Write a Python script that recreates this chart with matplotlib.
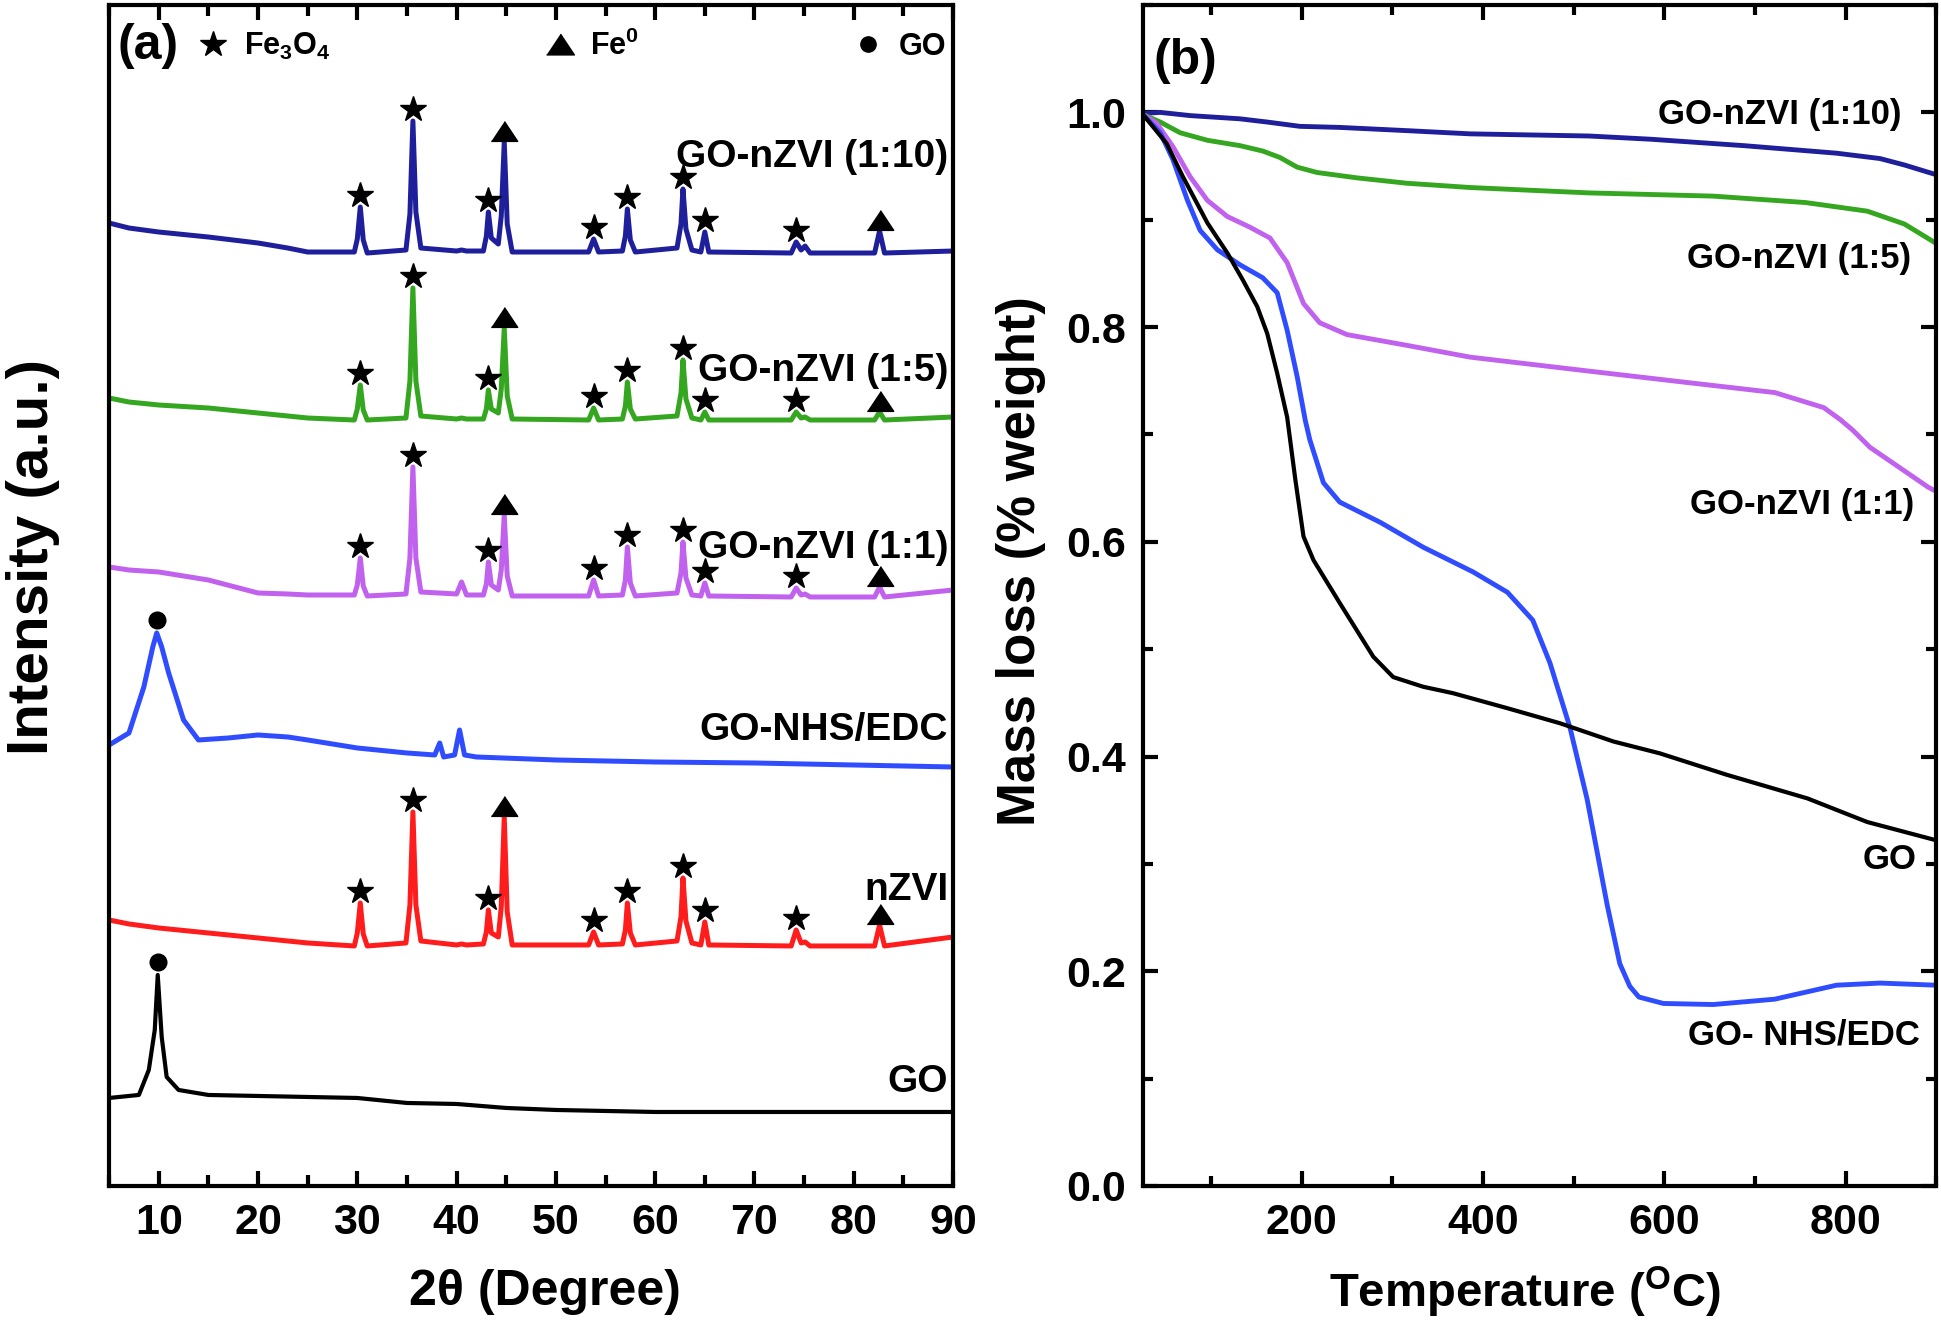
import numpy as np
import matplotlib
matplotlib.use("Agg")
import matplotlib.pyplot as plt
from matplotlib.ticker import MultipleLocator, FormatStrFormatter
from matplotlib.lines import Line2D

# ---- panel (a): XRD patterns, intensity measured from each trace's own baseline ----
tt_fe = [5, 7, 10, 15, 20, 23, 25, 29.7, 30.0, 30.3, 30.6, 31.0, 34.9, 35.3, 35.6, 35.9, 36.4,
         40.0, 40.5, 41.0, 42.7, 43.0, 43.2, 43.5, 44.2, 44.5, 44.8, 45.1, 45.6, 53.3, 53.8, 54.3,
         56.7, 57.0, 57.2, 57.5, 58.0, 62.2, 62.6, 62.8, 63.1, 63.7, 64.6, 65.0, 65.4,
         73.7, 74.2, 74.7, 75.1, 75.6, 82.1, 82.6, 83.1, 90]
I_110 = [31, 26, 22, 17, 11, 6, 2, 2, 15, 47, 14, 1, 4, 40, 133, 42, 6, 3, 4, 3, 3, 18, 42, 16,
         10, 38, 112, 30, 2, 2, 15, 2, 3, 18, 45, 14, 2, 6, 30, 65, 25, 4, 2, 22, 2,
         1, 12, 4, 8, 1, 1, 23, 1, 3]
I_15 = [23, 19, 16, 13, 8, 5, 3, 1, 12, 36, 11, 1, 3, 40, 133, 40, 5, 2, 3, 2, 2, 12, 31, 12,
        8, 32, 93, 25, 2, 1, 13, 1, 2, 15, 39, 12, 2, 5, 28, 61, 22, 3, 1, 9, 1,
        1, 9, 3, 4, 1, 1, 9, 1, 4]
I_11 = [31, 28, 26, 18, 5, 4, 3, 3, 13, 40, 12, 2, 4, 40, 131, 40, 6, 4, 16, 3, 3, 14, 36, 13,
        8, 28, 83, 22, 2, 2, 18, 2, 3, 18, 51, 15, 2, 5, 25, 56, 20, 3, 2, 15, 2,
        1, 10, 3, 4, 1, 1, 11, 1, 8]
I_nzvi = [27, 23, 19, 14, 9, 6, 4, 1, 14, 44, 13, 1, 4, 42, 135, 42, 6, 2, 3, 2, 3, 15, 37, 14,
          10, 40, 130, 35, 2, 2, 15, 2, 3, 17, 44, 14, 2, 6, 30, 69, 26, 4, 2, 25, 2,
          1, 17, 4, 5, 1, 1, 22, 1, 10]

tt_nhs = [5, 7, 8.5, 9.4, 9.8, 10.3, 11, 12.5, 14, 17, 20, 23, 25, 30, 35, 37.8, 38.3, 38.7,
          39.8, 40.3, 40.8, 42, 50, 60, 70, 90]
I_nhs = [22, 34, 80, 120, 134, 120, 94, 47, 27, 29, 32, 30, 27, 19, 14, 12, 24, 10,
         12, 37, 12, 10, 7, 5, 4, 0]

tt_go = [5, 8, 9.0, 9.6, 9.9, 10.3, 10.8, 12, 15, 20, 25, 30, 35, 40, 45, 50, 60, 90]
I_go = [14, 17, 42, 82, 137, 75, 35, 22, 17, 16, 15, 14, 9, 8, 4, 2, 0, 0]

fe3o4_peaks = [30.3, 35.6, 43.2, 53.8, 57.2, 62.8, 65.0, 74.2]
fe_peaks = [44.8, 82.6]
go_peak = {"GO-NHS/EDC": 9.8, "GO": 9.9}

xrd_names = ["GO-nZVI (1:10)", "GO-nZVI (1:5)", "GO-nZVI (1:1)", "GO-NHS/EDC", "nZVI", "GO"]
xrd_offsets = [932, 765, 588, 419, 239, 74]
xrd_label_y = [1029, 815, 638, 456, 296, 104]

# ---- panel (b): TGA ----
T_110 = [25, 44, 77, 132, 162, 180, 198, 242, 316, 386, 517, 585, 688, 790, 838, 865, 896, 900]
m_110 = [0.999, 1.0, 0.997, 0.994, 0.991, 0.989, 0.987, 0.986, 0.983, 0.980, 0.978, 0.975,
         0.969, 0.962, 0.957, 0.951, 0.943, 0.942]
T_15 = [25, 44, 66, 96, 132, 157, 176, 195, 217, 261, 316, 386, 517, 654, 756, 824, 865, 900]
m_15 = [0.998, 0.991, 0.981, 0.974, 0.969, 0.964, 0.958, 0.949, 0.944, 0.939, 0.934, 0.930,
        0.925, 0.922, 0.916, 0.908, 0.896, 0.878]
T_11 = [25, 40, 58, 77, 96, 118, 143, 165, 184, 202, 220, 250, 316, 386, 517, 619, 722, 776,
        794, 808, 827, 853, 891, 900]
m_11 = [0.998, 0.990, 0.968, 0.940, 0.918, 0.903, 0.893, 0.883, 0.860, 0.822, 0.804, 0.793,
        0.783, 0.772, 0.759, 0.749, 0.739, 0.725, 0.714, 0.704, 0.688, 0.673, 0.651, 0.647]
T_nhs = [25, 44, 58, 74, 88, 107, 132, 157, 173, 184, 195, 204, 209, 224, 242, 287, 334, 389,
         427, 455, 474, 496, 515, 537, 551, 562, 572, 599, 654, 722, 790, 838, 900]
m_nhs = [0.998, 0.981, 0.956, 0.918, 0.890, 0.872, 0.858, 0.846, 0.832, 0.797, 0.754, 0.713,
         0.695, 0.655, 0.637, 0.618, 0.595, 0.572, 0.553, 0.527, 0.487, 0.427, 0.360, 0.262,
         0.207, 0.186, 0.176, 0.170, 0.169, 0.174, 0.187, 0.189, 0.187]
T_go = [25, 51, 69, 96, 118, 135, 151, 162, 173, 184, 193, 202, 213, 242, 279, 301, 334, 367,
        427, 485, 544, 595, 669, 758, 824, 900]
m_go = [0.998, 0.971, 0.940, 0.897, 0.869, 0.844, 0.819, 0.794, 0.757, 0.716, 0.658, 0.605,
        0.583, 0.543, 0.493, 0.474, 0.465, 0.459, 0.445, 0.431, 0.414, 0.403, 0.383, 0.361,
        0.339, 0.322]

tga_names = ["GO-nZVI (1:10)", "GO-nZVI (1:5)", "GO-nZVI (1:1)", "GO", "GO- NHS/EDC"]
tga_label_xy = [(862, 0.998), (872, 0.864), (876, 0.635), (879, 0.304), (882, 0.141)]

navy = "#1f1f9c"
green = "#35a61f"
violet = "#c062ee"
blue = "#2f4dff"
red = "#ff1c1c"

plt.rcParams["font.family"] = ["Liberation Sans", "DejaVu Sans"]
plt.rcParams["font.weight"] = "bold"
plt.rcParams["axes.labelweight"] = "bold"
plt.rcParams["mathtext.fontset"] = "custom"
plt.rcParams["mathtext.rm"] = "Liberation Sans:bold"
plt.rcParams["mathtext.it"] = "Liberation Sans:bold"
plt.rcParams["mathtext.bf"] = "Liberation Sans:bold"

tri = [(-1, -0.75), (1, -0.75), (0, 0.75)]

fig = plt.figure(figsize=(19.41, 13.22), dpi=100)
ax1 = fig.add_axes([0.0562, 0.1029, 0.4348, 0.8933])
ax2 = fig.add_axes([0.5889, 0.1029, 0.4086, 0.8933])

# panel (a)
xrd = [(tt_fe, I_110, navy, 3.6), (tt_fe, I_15, green, 3.6), (tt_fe, I_11, violet, 3.6),
       (tt_nhs, I_nhs, blue, 3.6), (tt_fe, I_nzvi, red, 3.6), (tt_go, I_go, "black", 3.0)]
for (tt, I, c, lw), name, off, ly in zip(xrd, xrd_names, xrd_offsets, xrd_label_y):
    y = np.array(I) + off
    ax1.plot(tt, y, color=c, lw=lw)
    if tt is tt_fe:
        ys = np.interp(fe3o4_peaks, tt, I) + off + 12
        ax1.plot(fe3o4_peaks, ys, ls="none", marker="*", ms=19, color="black")
        yt = np.interp(fe_peaks, tt, I) + off + 11
        ax1.plot(fe_peaks, yt, ls="none", marker=tri, ms=19, color="black")
    else:
        p = go_peak[name]
        ax1.plot([p], [np.interp(p, tt, I) + off + 13], ls="none", marker="o", ms=12, color="black")
    ax1.text(89.5, ly, name, ha="right", va="center", fontsize=28)

ax1.set_xlim(5, 90)
ax1.set_ylim(0, 1181)
ax1.xaxis.set_major_locator(MultipleLocator(10))
ax1.xaxis.set_minor_locator(MultipleLocator(5))
ax1.tick_params(axis="x", which="both", direction="in", top=True, width=3, labelsize=31, pad=12)
ax1.tick_params(axis="x", which="major", length=11)
ax1.tick_params(axis="x", which="minor", length=8)
ax1.tick_params(axis="y", left=False, right=False, labelleft=False)
ax1.set_xlabel("2θ (Degree)", fontsize=36)
ax1.xaxis.set_label_coords(0.517, -0.09)
ax1.xaxis.label.set_va("center")
ax1.set_ylabel("Intensity (a.u.)", fontsize=42)
ax1.yaxis.set_label_coords(-0.09, 0.533)
ax1.yaxis.label.set_va("center")
ax1.text(0.0095, 0.965, "(a)", transform=ax1.transAxes, fontsize=36, va="center")

handles = [Line2D([], [], ls="none", marker="*", ms=19, color="black"),
           Line2D([], [], ls="none", marker=tri, ms=20, color="black"),
           Line2D([], [], ls="none", marker="o", ms=11, color="black")]
ax1.legend(handles, ["Fe$_3$O$_4$", "Fe$^0$", "GO"], ncol=3, loc="center left",
           bbox_to_anchor=(0.1055, 0.965), frameon=False, fontsize=22, handlelength=1.0,
           handletextpad=0.5, columnspacing=7.0, borderpad=0, borderaxespad=0)

# panel (b)
tga = [(T_110, m_110, navy, 3.5), (T_15, m_15, green, 3.5), (T_11, m_11, violet, 3.5),
       (T_nhs, m_nhs, blue, 3.5), (T_go, m_go, "black", 3.0)]
for T, m, c, lw in tga:
    ax2.plot(T, m, color=c, lw=lw, solid_joinstyle="round")
for name, (lx, ly) in zip(tga_names, tga_label_xy):
    ax2.text(lx, ly, name, ha="right", va="center", fontsize=25)

ax2.set_xlim(25, 900)
ax2.set_ylim(0, 1.1)
ax2.xaxis.set_major_locator(MultipleLocator(200))
ax2.xaxis.set_minor_locator(MultipleLocator(100))
ax2.yaxis.set_major_locator(MultipleLocator(0.2))
ax2.yaxis.set_minor_locator(MultipleLocator(0.1))
ax2.yaxis.set_major_formatter(FormatStrFormatter("%.1f"))
ax2.tick_params(which="both", direction="in", top=True, right=True, width=3, labelsize=31)
ax2.tick_params(which="major", length=11)
ax2.tick_params(which="minor", length=7)
ax2.tick_params(axis="x", pad=12)
ax2.tick_params(axis="y", pad=12)
ax2.set_xlabel("Temperature ($^{\\rm O}$C)", fontsize=34)
ax2.xaxis.set_label_coords(0.482, -0.09)
ax2.xaxis.label.set_va("center")
ax2.set_ylabel("Mass loss (% weight)", fontsize=38)
ax2.yaxis.set_label_coords(-0.154, 0.529)
ax2.yaxis.label.set_va("center")
ax2.text(0.0126, 0.953, "(b)", transform=ax2.transAxes, fontsize=36, va="center")

for ax in (ax1, ax2):
    for s in ax.spines.values():
        s.set_linewidth(3)

fig.savefig("out.png", dpi=100)
